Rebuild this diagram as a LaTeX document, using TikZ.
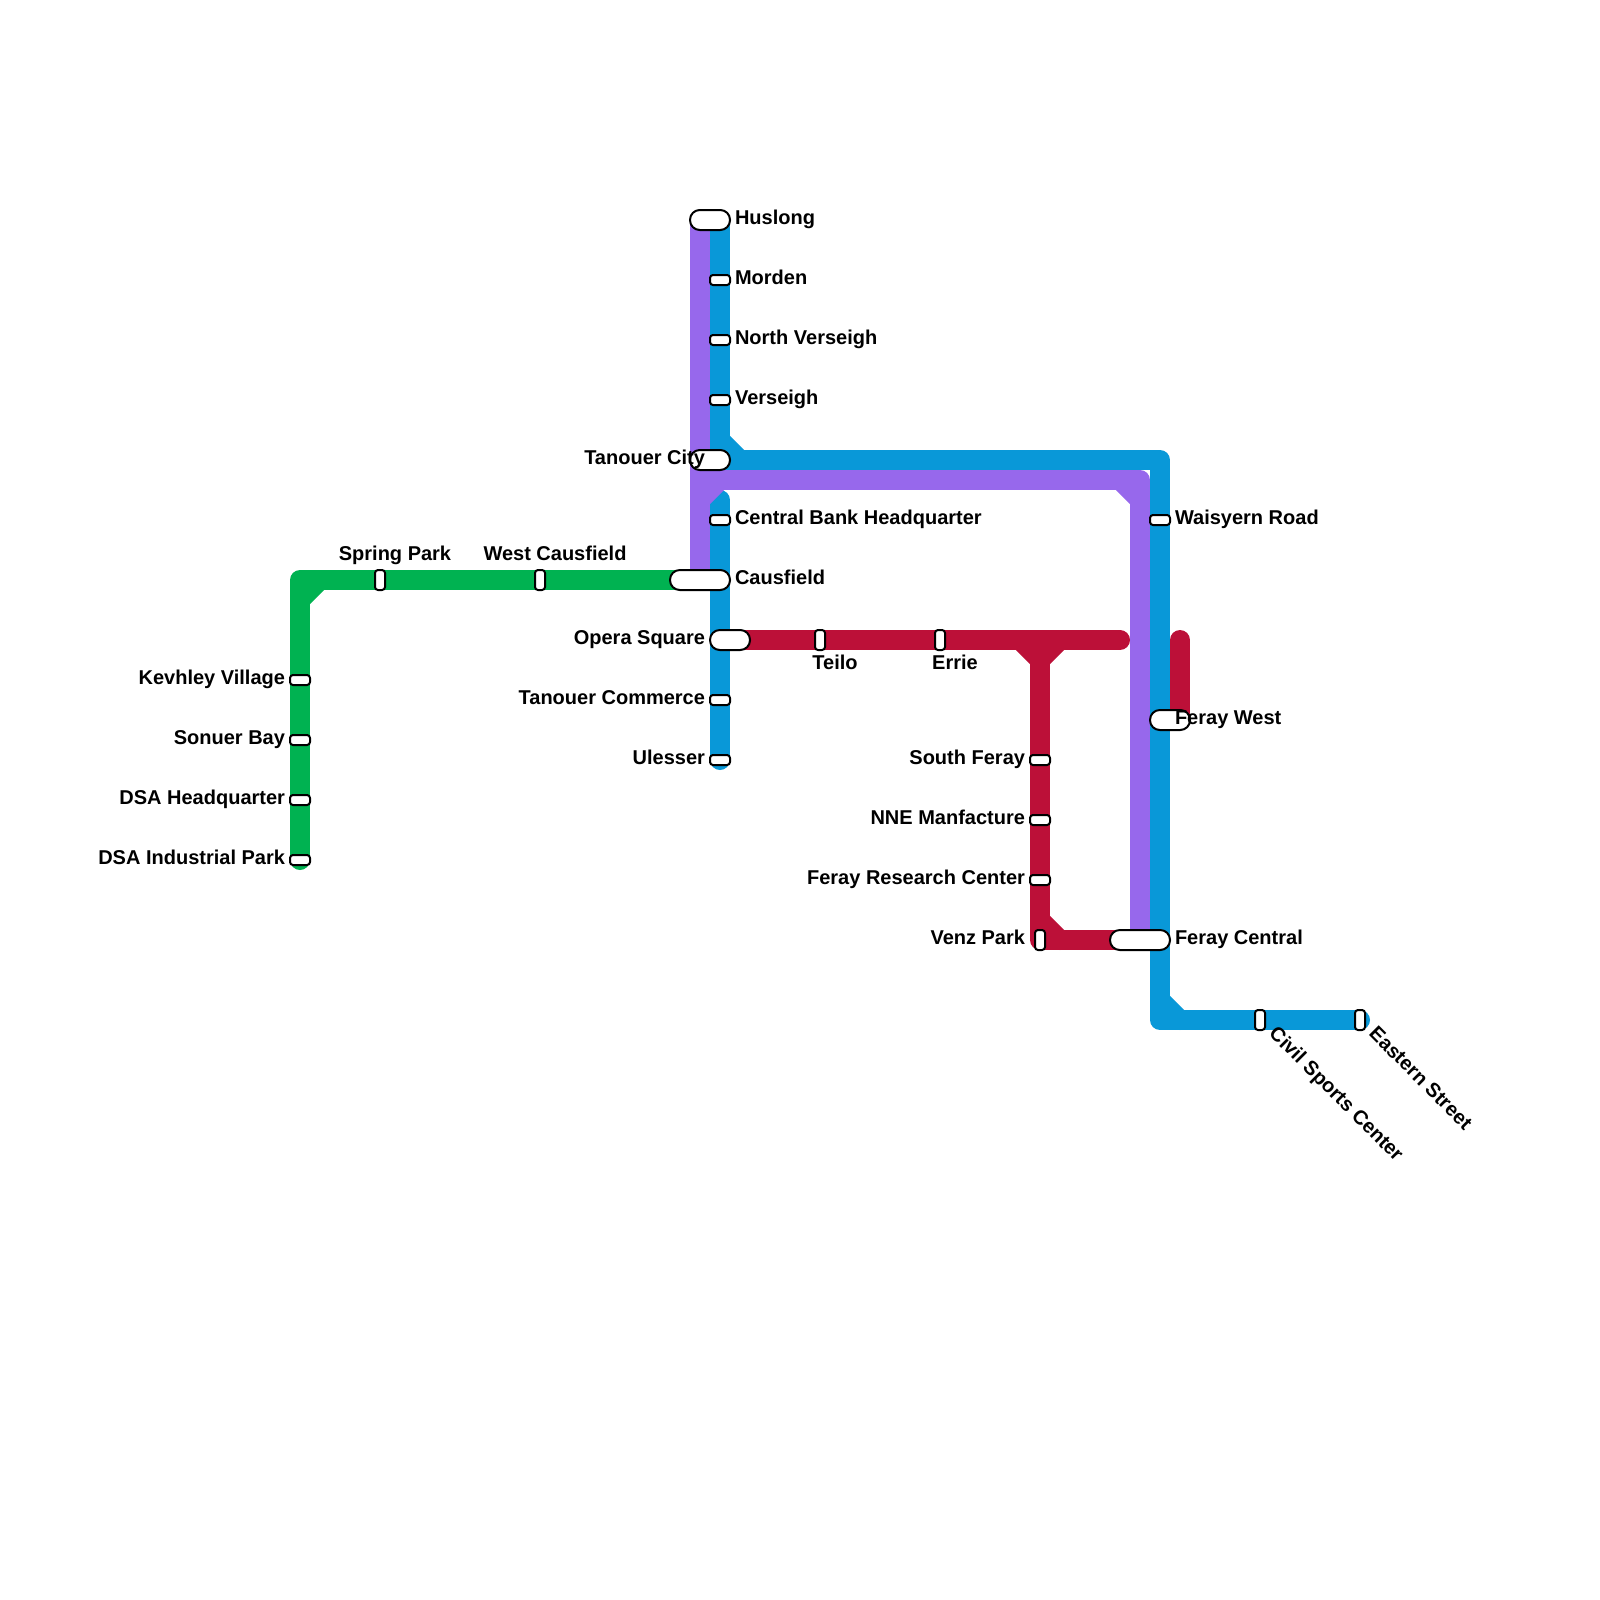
\documentclass[tikz,border=0pt]{standalone}
\usepackage{fontspec}
\setmainfont{Liberation Sans}
\usetikzlibrary{positioning, backgrounds}
\definecolor{lineGreen}{HTML}{00B251}
\definecolor{lineBlue}{HTML}{0998D8}
\definecolor{linePurple}{HTML}{9768EC}
\definecolor{lineRed}{HTML}{BC1038}

\tikzset{
  metroline/.style={line width=10pt, line cap=round, line join=round},
  stationh/.style={draw, fill=white, line width=1pt, rounded corners=1.5pt, inner sep=0pt, outer sep=0pt,
    minimum width=10pt, minimum height=5pt},
  stationv/.style={draw, fill=white, line width=1pt, rounded corners=1.5pt, inner sep=0pt, outer sep=0pt,
    minimum width=5pt, minimum height=10pt},
  interchange/.style={draw, fill=white, line width=1pt, rounded corners=4.9pt, inner sep=0pt, outer sep=0pt,
    minimum width=#1, minimum height=10pt},
  stationlabel/.style={inner sep=0pt, outer sep=0pt, font=\fontsize{10}{12}\selectfont\bfseries,
    text height=6.5pt, text depth=2.5pt}
}

\begin{document}
\begin{tikzpicture}[x=0.5pt, y=-0.5pt]
    \useasboundingbox (0,0) rectangle (1600,1600);

    % green line stations
    \node[stationv] (springpark) at (380,580) {};
    \node[stationv] (westcausfield) at (540,580) {};
    \node[stationh] (kevhley) at (300,680) {};
    \node[stationh] (sonuer) at (300,740) {};
    \node[stationh] (dsahq) at (300,800) {};
    \node[stationh] (dsaind) at (300,860) {};

    % blue and purple stations
    \node[interchange=20pt] (huslong) at (710,220) {};
    \node[stationh] (morden) at (720,280) {};
    \node[stationh] (northverseigh) at (720,340) {};
    \node[stationh] (verseigh) at (720,400) {};
    \node[interchange=20pt] (tanouercity) at (710,460) {};
    \node[stationh] (centralbank) at (720,520) {};
    \node[interchange=30pt] (causfield) at (700,580) {};
    \node[interchange=20pt] (operasquare) at (730,640) {};
    \node[stationh] (tanouercommerce) at (720,700) {};
    \node[stationh] (ulesser) at (720,760) {};
    \node[stationh] (waisyern) at (1160,520) {};
    \node[interchange=20pt] (feraywest) at (1170,720) {};
    \node[interchange=30pt] (feraycentral) at (1140,940) {};
    \node[stationv] (civilsports) at (1260,1020) {};
    \node[stationv] (easternstreet) at (1360,1020) {};

    % red line stations
    \node[stationv] (teilo) at (820,640) {};
    \node[stationv] (errie) at (940,640) {};
    \node[stationh] (southferay) at (1040,760) {};
    \node[stationh] (nnemanfacture) at (1040,820) {};
    \node[stationh] (ferayresearch) at (1040,880) {};
    \node[stationv] (venzpark) at (1040,940) {};

    % corners and free ends
    \coordinate (greenCorner) at (300,580);
    \coordinate (blueTop) at (720,220);
    \coordinate (blueJoin) at (720,460);
    \coordinate (blueNE) at (1160,460);
    \coordinate (blueSE) at (1160,1020);
    \coordinate (blueStub) at (720,500);
    \coordinate (purpleTop) at (700,220);
    \coordinate (purpleEnd) at (700,580);
    \coordinate (purpleJoin) at (700,480);
    \coordinate (purpleNE) at (1140,480);
    \coordinate (redEnd) at (1120,640);
    \coordinate (redTee) at (1040,640);
    \coordinate (redTop) at (1180,640);
    \coordinate (redBottom) at (1180,720);

    \begin{scope}[on background layer]
      \draw[metroline, lineGreen] (dsaind.center) -- (greenCorner) -- (causfield.center);
      \draw[metroline, lineGreen] ([yshift=-10pt]greenCorner) -- ([xshift=10pt]greenCorner);

      \draw[metroline, lineBlue] (blueTop) -- (blueJoin) -- (blueNE) -- (blueSE) -- (easternstreet.center);
      \draw[metroline, lineBlue] ([yshift=10pt]blueJoin) -- ([xshift=10pt]blueJoin);
      \draw[metroline, lineBlue] ([yshift=10pt]blueSE) -- ([xshift=10pt]blueSE);
      \draw[metroline, lineBlue] (blueStub) -- (ulesser.center);

      \draw[metroline, linePurple] (purpleTop) -- (purpleEnd);
      \draw[metroline, linePurple] (purpleJoin) -- (purpleNE) -- (feraycentral.center);
      \draw[metroline, linePurple] ([yshift=-10pt]purpleJoin) -- ([xshift=10pt]purpleJoin);
      \draw[metroline, linePurple] ([xshift=-10pt]purpleNE) -- ([yshift=-10pt]purpleNE);

      \draw[metroline, lineRed] (operasquare.center) -- (redEnd);
      \draw[metroline, lineRed] (redTee) -- (venzpark.center) -- (feraycentral.center);
      \draw[metroline, lineRed] ([xshift=-10pt]redTee) -- ([yshift=-10pt]redTee) -- ([xshift=10pt]redTee);
      \draw[metroline, lineRed] ([yshift=10pt]venzpark.center) -- ([xshift=10pt]venzpark.center);
      \draw[metroline, lineRed] (redTop) -- (redBottom);
    \end{scope}

    % labels
    \node[stationlabel, above=2.5pt of springpark, xshift=7.5pt] (springparklabel) {Spring Park};
    \node[stationlabel, above=2.5pt of westcausfield, xshift=7.5pt] (westcausfieldlabel) {West Causfield};
    \node[stationlabel, left=2.5pt of kevhley] (kevhleylabel) {Kevhley Village};
    \node[stationlabel, left=2.5pt of sonuer] (sonuerlabel) {Sonuer Bay};
    \node[stationlabel, left=2.5pt of dsahq] (dsahqlabel) {DSA Headquarter};
    \node[stationlabel, left=2.5pt of dsaind] (dsaindlabel) {DSA Industrial Park};

    \node[stationlabel, right=2.5pt of huslong] (huslonglabel) {Huslong};
    \node[stationlabel, right=2.5pt of morden] (mordenlabel) {Morden};
    \node[stationlabel, right=2.5pt of northverseigh] (northverseighlabel) {North Verseigh};
    \node[stationlabel, right=2.5pt of verseigh] (verseighlabel) {Verseigh};
    \node[stationlabel, left=2.5pt of tanouercity.center] (tanouercitylabel) {Tanouer City};
    \node[stationlabel, right=2.5pt of centralbank] (centralbanklabel) {Central Bank Headquarter};
    \node[stationlabel, right=2.5pt of causfield] (causfieldlabel) {Causfield};
    \node[stationlabel, left=2.5pt of operasquare] (operasquarelabel) {Opera Square};
    \node[stationlabel, left=2.5pt of tanouercommerce] (tanouercommercelabel) {Tanouer Commerce};
    \node[stationlabel, left=2.5pt of ulesser] (ulesserlabel) {Ulesser};
    \node[stationlabel, right=2.5pt of waisyern] (waisyernlabel) {Waisyern Road};
    \node[stationlabel, right=2.5pt of feraywest.center] (feraywestlabel) {Feray West};
    \node[stationlabel, right=2.5pt of feraycentral] (feraycentrallabel) {Feray Central};

    \node[stationlabel, below=3pt of teilo, xshift=7.5pt] (teilolabel) {Teilo};
    \node[stationlabel, below=3pt of errie, xshift=7.5pt] (errielabel) {Errie};
    \node[stationlabel, left=2.5pt of southferay] (southferaylabel) {South Feray};
    \node[stationlabel, left=2.5pt of nnemanfacture] (nnemanfacturelabel) {NNE Manfacture};
    \node[stationlabel, left=2.5pt of ferayresearch] (ferayresearchlabel) {Feray Research Center};
    \node[stationlabel, left=5pt of venzpark] (venzparklabel) {Venz Park};

    \node[stationlabel, rotate=-45, anchor=west] (civilsportslabel) at ([xshift=5.5pt,yshift=-6pt]civilsports.center) {Civil Sports Center};
    \node[stationlabel, rotate=-45, anchor=west] (easternstreetlabel) at ([xshift=5.5pt,yshift=-6pt]easternstreet.center) {Eastern Street};
\end{tikzpicture}
\end{document}
